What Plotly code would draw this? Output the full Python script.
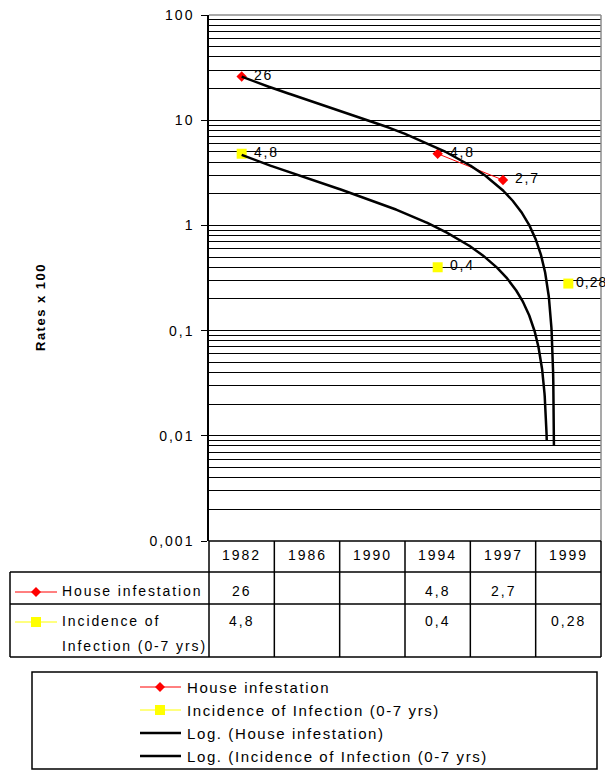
import numpy as np
import plotly.graph_objects as go

# ---------------- data ----------------
years = ['1982', '1986', '1990', '1994', '1997', '1999']
house = [26, None, None, 4.8, 2.7, None]
incidence = [4.8, None, None, 0.4, None, 0.28]
series_names = ['House infestation', 'Incidence of Infection (0-7 yrs)']
trend_names = ['Log. (House infestation)', 'Log. (Incidence of Infection (0-7 yrs)']
y_tickvals = [0.001, 0.01, 0.1, 1, 10, 100]
y_ticktext = ['0,001', '0,01', '0,1', '1', '10', '100']
y_title = 'Rates x 100'

# ---------------- geometry helpers (page pixels) ----------------
W, H = 613, 771
OX, OY = 8, 8          # default page body margin
L, R, T, B = 209, 601, 15, 541
FONT = 'Liberation Sans, Arial, sans-serif'


def px(x):
    return (x - L) / (R - L)


def py(y):
    return (B - y) / (B - T)


def sp(s, ls=2):
    return f'<span style="letter-spacing:{ls}px">{s}</span>'


def fmt(v):
    return '' if v is None else f'{v:g}'.replace('.', ',')


xpos = np.arange(1, len(years) + 1)


def log_trend(vals, cutoff):
    y = np.array([np.nan if v is None else v for v in vals], float)
    m = ~np.isnan(y)
    a, b = np.polyfit(np.log(xpos[m]), y[m], 1)
    x_end = np.exp((cutoff - b) / a)
    xs = np.linspace(1, x_end, 1500)
    return xs, a * np.log(xs) + b


RED = '#FF0000'
YEL = '#FFFF00'

fig = go.Figure()
fig.add_trace(go.Scatter(
    x=xpos, y=house, mode='lines+markers', connectgaps=False,
    line=dict(color=RED, width=1),
    marker=dict(symbol='diamond', size=8, color=RED),
    name=series_names[0], showlegend=False))
fig.add_trace(go.Scatter(
    x=xpos, y=incidence, mode='lines+markers', connectgaps=False,
    line=dict(color=YEL, width=1),
    marker=dict(symbol='square', size=10, color=YEL),
    name=series_names[1], showlegend=False))

for vals, nm, cut in [(house, trend_names[0], 0.008), (incidence, trend_names[1], 0.009)]:
    xs, ys = log_trend(vals, cut)
    fig.add_trace(go.Scatter(x=xs, y=ys, mode='lines', line=dict(color='black', width=2.5),
                             name=nm, showlegend=False, hoverinfo='skip'))

minor_vals = [k * 10.0 ** n for n in range(-3, 2) for k in range(2, 10)]

shapes = []
ann = []

# data labels (the last category's label sits at the right edge, so it is kept tighter)
last = len(years) - 1
for vals in (house, incidence):
    for i, v in enumerate(vals):
        if v is not None:
            edge = (i == last)
            ann.append(dict(x=xpos[i], y=np.log10(v), xref='x', yref='y',
                            text=sp(fmt(v), 1 if edge else 1.8),
                            showarrow=False, xanchor='left', yanchor='middle',
                            xshift=6 if edge else 10, yshift=2,
                            font=dict(size=14, color='black', family=FONT)))


def hline(y, x0, x1, color='black', w=1.5, layer='above'):
    shapes.append(dict(type='line', xref='paper', yref='paper', x0=px(x0), x1=px(x1),
                       y0=py(y), y1=py(y), line=dict(color=color, width=w), layer=layer))


def vline(x, y0, y1, color='black', w=1.5, xref='paper'):
    xx = px(x) if xref == 'paper' else x
    shapes.append(dict(type='line', xref=xref, yref='paper', x0=xx, x1=xx,
                       y0=py(y0), y1=py(y1), line=dict(color=color, width=w), layer='above'))


def diamond(cx, cy, h=5, color=RED):
    path = (f'M {px(cx)} {py(cy - h)} L {px(cx + h)} {py(cy)} L {px(cx)} {py(cy + h)} '
            f'L {px(cx - h)} {py(cy)} Z')
    shapes.append(dict(type='path', xref='paper', yref='paper', path=path,
                       fillcolor=color, line=dict(width=0), layer='above'))


def square(cx, cy, h=5, color=YEL):
    shapes.append(dict(type='rect', xref='paper', yref='paper', x0=px(cx - h), x1=px(cx + h),
                       y0=py(cy + h), y1=py(cy - h), fillcolor=color, line=dict(width=0),
                       layer='above'))


def text(x, y, s, size=14, xanchor='center', ls=2, xref='paper', bold=False, angle=0):
    t = sp(s, ls)
    if bold:
        t = '<b>' + t + '</b>'
    ann.append(dict(x=px(x) if xref == 'paper' else x, y=py(y), xref=xref, yref='paper',
                    text=t, showarrow=False, xanchor=xanchor, yanchor='middle',
                    textangle=angle, font=dict(size=size, color='black', family=FONT)))


# plot-area border (top/right gray)
hline(T, L, R, color='#8c8c8c', w=1.5)
vline(R, T, B, color='#8c8c8c', w=1.5)

# data table
hline(541, L, 601)
for yy in (572, 604, 657):
    hline(yy, 10, 601)
vline(10, 572, 657)
vline(L, 541, 657)
for k in range(1, len(years)):
    vline(k + 0.5, 541, 657, xref='x')
vline(601, 541, 657)

for i, yr in enumerate(years):
    text(i + 1, 555, yr, xref='x')
    if house[i] is not None:
        text(i + 1, 591, fmt(house[i]), xref='x')
    if incidence[i] is not None:
        text(i + 1, 621, fmt(incidence[i]), xref='x')

# table row keys
hline(592, 15, 57, color=RED, w=1)
diamond(36, 592)
hline(622, 15, 57, color=YEL, w=1)
square(36, 622)
text(60, 591, series_names[0], xanchor='left', ls=1.9)
text(60, 621, 'Incidence of', xanchor='left', ls=1.9)
text(60, 646, 'Infection (0-7 yrs)', xanchor='left', ls=1.9)

# legend box
shapes.append(dict(type='rect', xref='paper', yref='paper', x0=px(32), x1=px(597),
                   y0=py(769), y1=py(672), line=dict(color='black', width=1.5), layer='above'))
ly = [687, 710, 733, 756]
hline(ly[0], 140, 181, color=RED, w=1)
diamond(160, ly[0])
hline(ly[1], 140, 181, color=YEL, w=1)
square(160, ly[1])
hline(ly[2], 140, 181, color='black', w=2.5)
hline(ly[3], 140, 181, color='black', w=2.5)
for yy, s in zip(ly, series_names + trend_names):
    text(185, yy, s, size=15, xanchor='left', ls=1.6)

# y-axis title
text(40, 307, y_title, size=13, ls=1.5, bold=True, angle=-90)

fig.update_layout(
    width=W - OX, height=H - OY,
    margin=dict(l=L - OX, r=W - R, t=T - OY, b=H - B, autoexpand=False),
    paper_bgcolor='white', plot_bgcolor='white', showlegend=False,
    font=dict(family=FONT, color='black'),
    shapes=shapes, annotations=ann,
    xaxis=dict(range=[0.5, len(years) + 0.5], showticklabels=False, showgrid=False,
               zeroline=False, showline=False, ticks='', automargin=False),
    yaxis=dict(type='log', range=[-3, 2], tickvals=y_tickvals,
               ticktext=[sp(t) for t in y_ticktext], ticks='outside', ticklen=6,
               tickcolor='black', tickwidth=1, showline=True, linecolor='black',
               linewidth=1.5, showgrid=True, gridcolor='black', gridwidth=1,
               zeroline=False, tickfont=dict(size=14, color='black', family=FONT),
               ticklabelstandoff=4, automargin=False, ticklabeloverflow='allow',
               minor=dict(tickvals=minor_vals, showgrid=True, gridcolor='black',
                          gridwidth=1, ticks='')),
)

fig.write_html('out.html')
